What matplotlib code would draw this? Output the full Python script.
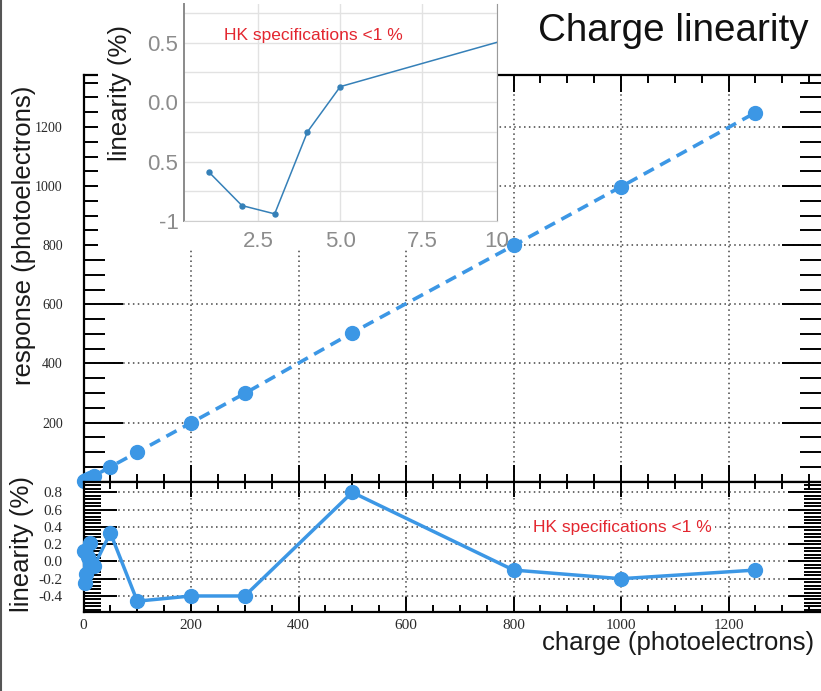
import matplotlib
matplotlib.use("Agg")
import matplotlib.pyplot as plt
from matplotlib.ticker import MultipleLocator, FixedLocator, FixedFormatter
from matplotlib.lines import Line2D

# ---- data ----
charge = [1, 3, 5, 8, 12, 20, 50, 100, 200, 300, 500, 800, 1000, 1250]
response = [1.0, 3.0, 5.0, 8.0, 12.0, 20.0, 50.2, 99.5, 199.2, 298.8, 504.0, 799.2, 998.0, 1248.8]
linearity = [0.12, -0.25, -0.15, 0.05, 0.21, -0.05, 0.33, -0.46, -0.40, -0.40, 0.80, -0.10, -0.20, -0.10]

inset_charge = [1, 2, 3, 4, 5, 10]
inset_lin = [-0.59, -0.87, -0.94, -0.25, 0.13, 0.52]
inset_yticks = [-1.0, -0.5, 0.0, 0.5]
inset_ylabels = ["-1", "0.5", "0.0", "0.5"]
inset_xticks = [2.5, 5.0, 7.5, 9.78]
inset_xlabels = ["2.5", "5.0", "7.5", "10"]

BLUE = "#3c97e5"
INSET_BLUE = "#3580b8"
RED = "#e3262f"
SANS = ["Liberation Sans", "DejaVu Sans"]
SERIF = ["Liberation Serif", "DejaVu Serif"]

W, H = 821, 691
fig = plt.figure(figsize=(W / 100, H / 100), dpi=100)
plt.rcParams["font.family"] = SANS


def fx(px):
    return px / W


def fy(px):
    return 1 - px / H


grid_kw = dict(color="#444444", lw=1.1, ls=(0, (1, 2.2)))


def root_style(ax, ymaj_len, ymin_len, xmaj_len, xmin_len):
    for s in ["left", "top", "bottom"]:
        ax.spines[s].set_linewidth(1.6)
    ax.spines["right"].set_visible(False)
    ax.tick_params(which="both", direction="in", top=True, right=True, color="black", width=1.4)
    ax.tick_params(axis="y", which="major", length=ymaj_len)
    ax.tick_params(axis="y", which="minor", length=ymin_len)
    ax.tick_params(axis="x", which="major", length=xmaj_len)
    ax.tick_params(axis="x", which="minor", length=xmin_len)


# ---- upper panel: response vs charge ----
x0, x1 = 83.5, 821
ax1 = fig.add_axes([fx(x0), fy(481.7), fx(x1 - x0), (481.7 - 75) / H], zorder=1)
ax1.plot(charge, response, color=BLUE, lw=2.6, ls=(0, (3.2, 2.0)), marker="o", ms=10,
         clip_on=False, zorder=3)
ax1.set_xlim(0, 1372)
ax1.set_ylim(0, 1376)
ax1.xaxis.set_major_locator(MultipleLocator(200))
ax1.xaxis.set_minor_locator(MultipleLocator(50))
ax1.yaxis.set_major_locator(FixedLocator([200, 400, 600, 800, 1000, 1200]))
ax1.yaxis.set_minor_locator(MultipleLocator(50))
root_style(ax1, 28, 15, 12, 6)
ax1.tick_params(axis="x", labelbottom=False)
ax1.tick_params(axis="y", pad=15, labelsize=10, labelcolor="#2a2a2a")
for lab in ax1.get_yticklabels():
    lab.set_family(SERIF)
ax1.grid(True, which="major", **grid_kw)

# ---- lower panel: linearity vs charge ----
ax2 = fig.add_axes([fx(x0), fy(611.7), fx(x1 - x0), 130 / H], zorder=1.5)
ax2.plot(charge, linearity, color=BLUE, lw=2.5, marker="o", ms=10, clip_on=False, zorder=3)
ax2.set_xlim(0, 1372)
ax2.set_ylim(-0.582, 0.923)
ax2.xaxis.set_major_locator(MultipleLocator(200))
ax2.xaxis.set_minor_locator(MultipleLocator(50))
ax2.yaxis.set_major_locator(FixedLocator([-0.4, -0.2, 0.0, 0.2, 0.4, 0.6, 0.8]))
ax2.yaxis.set_minor_locator(MultipleLocator(0.04))
root_style(ax2, 24, 12, 11, 5)
ax2.tick_params(axis="y", pad=15, labelsize=11, labelcolor="#2a2a2a")
ax2.tick_params(axis="x", pad=5, labelsize=11, labelcolor="#2a2a2a")
ax2.set_yticklabels(["-0.4", "-0.2", "0.0", "0.2", "0.4", "0.6", "0.8"])
for lab in ax2.get_yticklabels() + ax2.get_xticklabels():
    lab.set_family(SERIF)
ax2.grid(True, which="major", **grid_kw)
ax2.text(1003, 0.387, "HK specifications <1 %", color=RED, fontsize=12.5, ha="center", va="center",
         bbox=dict(facecolor="white", edgecolor="none", pad=2), zorder=4)

# ---- white patch behind the inset ----
patch = fig.add_axes([fx(98), fy(250), fx(497 - 98), 250 / H], zorder=2)
patch.set_facecolor("white")
patch.set_xticks([])
patch.set_yticks([])
for s in patch.spines.values():
    s.set_visible(False)

# ---- inset: small-charge linearity ----
ax3 = fig.add_axes([fx(184), fy(221), fx(497 - 184), (221 - 4) / H], zorder=3)
ax3.plot(inset_charge, inset_lin, color=INSET_BLUE, lw=1.1, marker="o", ms=3.6, markevery=[0, 1, 2, 3, 4])
ax3.set_xlim(0.235, 9.78)
ax3.set_ylim(-1.0, 0.825)
ax3.yaxis.set_major_locator(FixedLocator(inset_yticks))
ax3.yaxis.set_major_formatter(FixedFormatter(inset_ylabels))
ax3.yaxis.set_minor_locator(MultipleLocator(0.25))
ax3.xaxis.set_major_locator(FixedLocator(inset_xticks))
ax3.xaxis.set_major_formatter(FixedFormatter(inset_xlabels))
ax3.tick_params(which="both", length=0, labelsize=16, labelcolor="#8c8c8c")
ax3.tick_params(axis="y", pad=4)
ax3.tick_params(axis="x", pad=7)
ax3.grid(True, which="both", color="#e2e2e2", lw=1)
ax3.set_axisbelow(True)
ax3.spines["top"].set_visible(False)
ax3.spines["left"].set_color("#8a8a8a")
ax3.spines["left"].set_linewidth(1.4)
ax3.spines["bottom"].set_color("#cfcfcf")
ax3.spines["right"].set_color("#9a9a9a")
ax3.text(4.17, 0.556, "HK specifications <1 %", color=RED, fontsize=12.5, ha="center", va="center")

# ---- labels and title ----
lab_kw = dict(fontsize=18.5, color="#1a1a1a", rotation=90, ha="center", va="center")
fig.text(fx(24), fy(235), "response (photoelectrons)", zorder=5, **lab_kw)
fig.text(fx(22), fy(544), "linearity (%)", **lab_kw)
fig.text(fx(120), fy(93), "linearity (%)", zorder=5, **lab_kw)
fig.text(fx(814), fy(650), "charge (photoelectrons)", fontsize=18.5, color="#1a1a1a",
         ha="right", va="baseline")
fig.text(fx(538), fy(40.7), "Charge linearity", fontsize=27.8, color="#111111",
         ha="left", va="baseline")

fig.add_artist(Line2D([0.0015, 0.0015], [0, 1], transform=fig.transFigure, color="#555555", lw=1.5))

fig.savefig("out.png", dpi=100)
